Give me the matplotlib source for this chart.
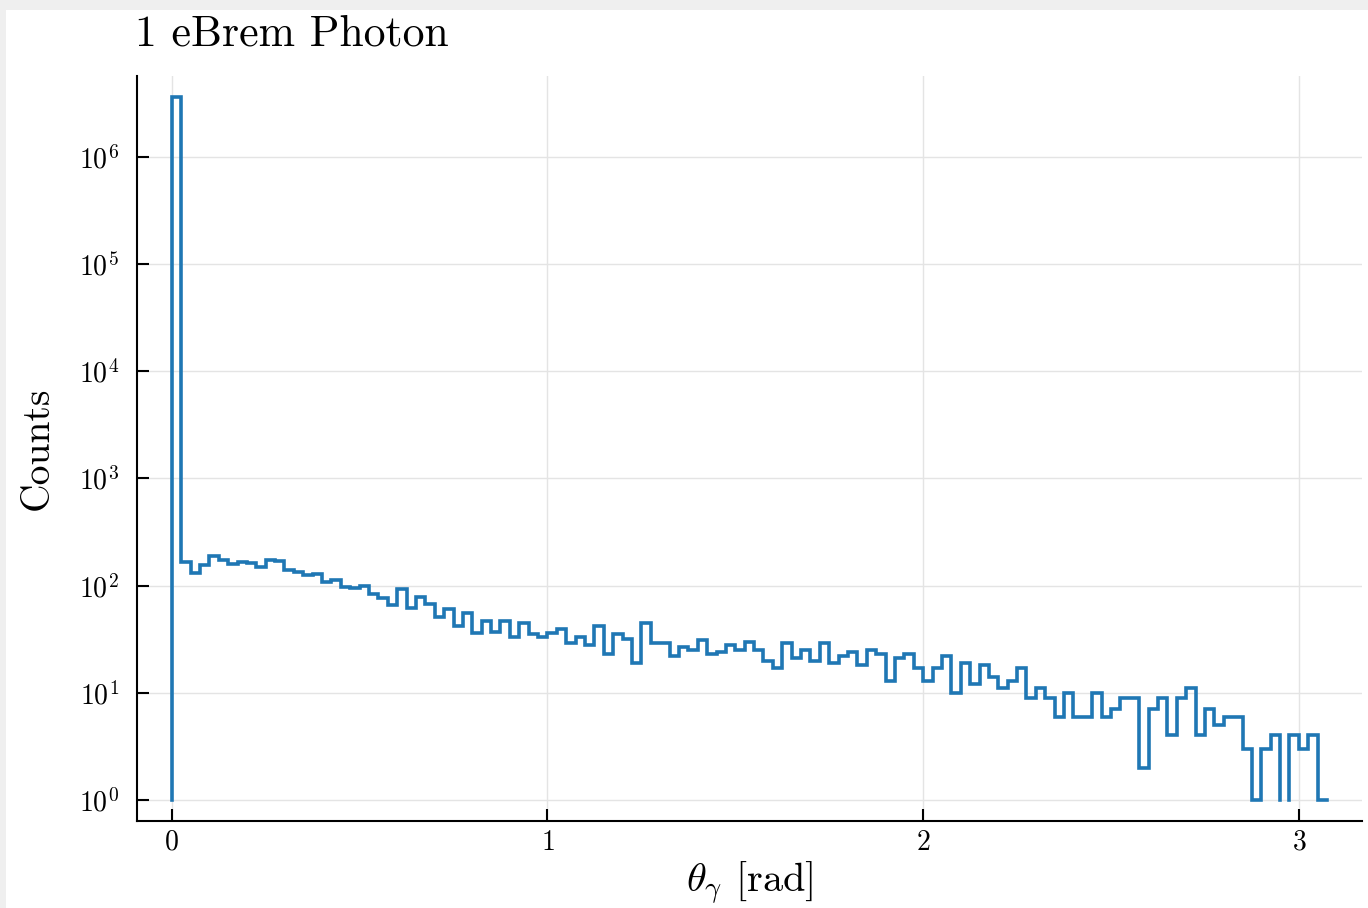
import numpy as np
import matplotlib
matplotlib.use('Agg')
import matplotlib.pyplot as plt
from matplotlib.patches import Rectangle
from matplotlib.ticker import LogLocator, LogFormatterMathtext, NullLocator

plt.rcParams['font.family'] = 'serif'
plt.rcParams['font.serif'] = ['cmr10']
plt.rcParams['mathtext.fontset'] = 'cm'
plt.rcParams['axes.formatter.use_mathtext'] = True

# ── Data ──────────────────────────────────────────────────────────────
bin_width = 0.025
counts = [
    3600000, 166, 131, 157, 188, 173, 160, 166, 164, 150,
    172, 171, 140, 135, 126, 129, 107, 114, 97, 95,
    99, 84, 77, 66, 92, 62, 79, 68, 51, 60,
    42, 55, 36, 47, 37, 47, 33, 45, 35, 33,
    36, 39, 29, 33, 28, 42, 23, 35, 32, 19,
    45, 29, 29, 22, 27, 25, 31, 23, 24, 28,
    25, 30, 25, 20, 17, 29, 21, 25, 20, 29,
    19, 22, 24, 18, 25, 23, 13, 21, 23, 17,
    13, 17, 22, 10, 19, 12, 18, 14, 11, 13,
    17, 9, 11, 9, 6, 10, 6, 6, 10, 6,
    7, 9, 9, 2, 7, 9, 4, 9, 11, 4,
    7, 5, 6, 6, 3, 1, 3, 4, 0, 4,
    3, 4, 1,
]
title = '1 eBrem Photon'
xlabel = r'$\theta_\gamma$ [rad]'
ylabel = 'Counts'
xticks = [0, 1, 2, 3]

counts = np.array(counts, dtype=float)
edges = np.arange(len(counts) + 1) * bin_width

# step outline; empty bins leave a gap (log scale)
xs, ys = [edges[0]], [1.0]
for i, c in enumerate(counts):
    if c > 0:
        xs += [edges[i], edges[i + 1]]
        ys += [c, c]
    else:
        xs += [edges[i], np.nan, edges[i + 1]]
        ys += [1.0, np.nan, 1.0]

# ── Figure ────────────────────────────────────────────────────────────
W, H = 1368, 908
fig = plt.figure(figsize=(W / 100, H / 100), dpi=100, facecolor='#efefef')
bg = Rectangle((6 / W, 0), 1 - 6 / W, (H - 10) / H,
               transform=fig.transFigure, facecolor='white',
               edgecolor='none', zorder=-10)
fig.add_artist(bg)

ax = fig.add_axes([137 / W, 1 - 821 / H, (1362 - 137) / W, (821 - 76) / H])
ax.patch.set_alpha(0)
ax.plot(xs, ys, color='#1f77b4', lw=2.6, solid_joinstyle='miter', zorder=3)

ax.set_yscale('log')
ax.set_xlim(-0.0925, 3.168)
ax.set_ylim(10 ** -0.196, 10 ** 6.754)
ax.set_xticks(xticks)
ax.yaxis.set_major_locator(LogLocator(base=10, numticks=10))
ax.yaxis.set_major_formatter(LogFormatterMathtext())
ax.yaxis.set_minor_locator(NullLocator())

for s in ['top', 'right']:
    ax.spines[s].set_visible(False)
for s in ['left', 'bottom']:
    ax.spines[s].set_linewidth(1.5)

ax.grid(True, color='#e4e4e4', lw=1.0, zorder=0)
ax.set_axisbelow(True)
ax.tick_params(axis='both', direction='in', length=8.5, width=1.5, labelsize=20)
ax.tick_params(axis='x', pad=6)
ax.tick_params(axis='y', pad=13)

ax.set_title(title, loc='left', fontsize=31.5, pad=22, x=-0.002)
ax.set_xlabel(xlabel, fontsize=29, va='top')
ax.set_ylabel(ylabel, fontsize=28.5)
ax.xaxis.set_label_coords(0.5, -0.051)
ax.yaxis.set_label_coords(-0.066, 0.5)

plt.savefig('out.png', dpi=100, facecolor=fig.get_facecolor())
